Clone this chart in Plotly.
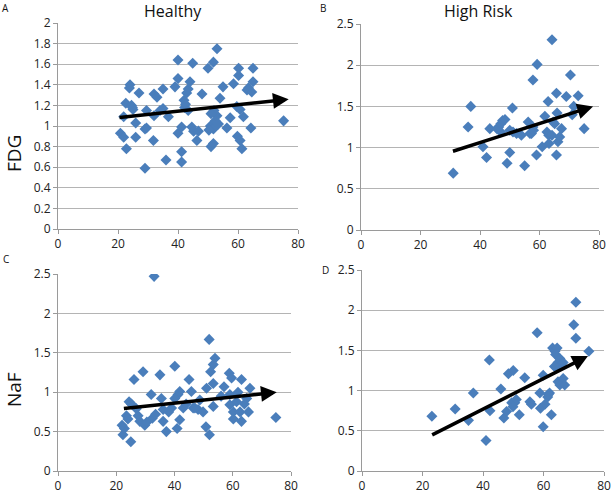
import plotly.graph_objects as go

# ---------------- data ----------------
healthy_fdg_age = [20.8, 21.9, 22.8, 21.9, 22.6, 24.0, 23.8, 24.5, 24.8, 25.0, 25.9, 25.9, 27.0, 29.0, 29.5,
                   29.0, 29.5, 31.8, 32.0, 33.0, 32.0, 34.0, 35.0, 35.0, 36.0, 36.8, 39.0, 40.0, 40.0, 40.0,
                   41.2, 41.2, 41.2, 42.0, 42.2, 42.5, 42.9, 43.4, 44.0, 43.4, 44.6, 44.9, 45.2, 46.8, 46.3,
                   48.0, 50.0, 51.8, 53.0, 50.8, 51.0, 51.8, 51.8, 52.4, 53.0, 52.0, 53.5, 54.0, 55.0, 56.3,
                   57.4, 58.5, 59.6, 59.8, 60.2, 60.2, 60.7, 61.3, 61.8, 63.0, 63.5, 64.6, 64.3, 65.0, 65.0,
                   75.2, 60.7, 51.0, 50.3]
healthy_fdg_val = [0.93, 0.89, 0.78, 1.09, 1.22, 1.40, 1.37, 1.20, 1.18, 1.16, 0.89, 1.03, 1.32, 0.97, 0.98,
                   0.59, 1.15, 0.86, 1.31, 1.28, 1.10, 1.15, 1.36, 1.17, 0.67, 1.09, 1.38, 1.46, 1.64, 0.93,
                   0.75, 0.65, 0.99, 1.25, 1.18, 1.21, 1.32, 1.36, 1.43, 1.15, 0.99, 1.61, 0.95, 0.95, 0.86,
                   1.31, 1.56, 1.62, 1.75, 1.00, 0.80, 0.83, 0.97, 1.05, 1.10, 1.15, 1.02, 1.27, 1.38, 0.98,
                   1.08, 1.41, 1.19, 0.90, 1.56, 1.49, 0.86, 0.78, 1.09, 1.35, 1.37, 1.33, 0.98, 1.43, 1.56,
                   1.05, 1.16, 1.12, 0.96]

risk_fdg_age = [31.0, 36.0, 36.9, 41.0, 42.2, 43.3, 45.7, 46.3, 47.0, 47.6, 48.4, 47.0, 49.1, 50.0, 50.9,
                50.0, 51.1, 52.3, 53.9, 55.0, 56.2, 56.8, 57.8, 57.3, 58.0, 59.0, 57.8, 59.2, 60.9, 61.8,
                62.5, 63.1, 62.9, 63.2, 64.2, 64.6, 65.7, 65.7, 65.9, 66.2, 66.8, 67.4, 69.0, 70.4, 71.0,
                71.5, 73.0, 75.0, 64.2, 65.1]
risk_fdg_val = [0.69, 1.25, 1.50, 1.01, 0.88, 1.23, 1.23, 1.25, 1.29, 1.33, 1.34, 1.19, 0.81, 0.94, 1.48,
                1.21, 1.19, 1.17, 1.15, 0.78, 1.31, 1.17, 1.25, 1.17, 1.21, 0.91, 1.82, 2.01, 1.01, 1.38,
                1.19, 1.15, 1.56, 1.05, 2.31, 1.31, 0.91, 1.66, 1.42, 1.07, 1.13, 1.23, 1.62, 1.88, 1.40,
                1.50, 1.63, 1.23, 1.15, 1.29]

healthy_naf_age = [33.0, 51.9, 53.9, 53.3, 52.4, 40.1, 35.0, 29.2, 26.1, 22.3, 25.0, 22.8, 23.5, 24.4, 25.2,
                   26.9, 28.1, 29.8, 32.0, 32.4, 35.5, 36.1, 37.2, 36.1, 39.0, 40.1, 41.2, 41.8, 40.9, 41.8,
                   43.0, 45.0, 45.8, 46.4, 48.1, 48.7, 49.8, 50.8, 52.0, 51.0, 53.3, 53.3, 57.0, 58.8, 59.6,
                   59.0, 59.0, 60.2, 60.2, 61.3, 62.5, 63.0, 63.0, 64.8, 65.4, 65.9, 74.8, 22.0, 24.0, 27.5,
                   30.5, 33.5, 38.0, 44.0, 47.0, 56.0, 61.8, 64.0]
healthy_naf_val = [2.47, 1.67, 1.43, 1.35, 1.26, 1.33, 1.22, 1.26, 1.16, 0.46, 0.37, 0.54, 0.70, 0.88, 0.85,
                   0.79, 0.63, 0.58, 0.97, 0.67, 0.92, 0.63, 0.50, 0.78, 0.80, 0.92, 0.97, 1.01, 0.54, 0.65,
                   0.80, 1.16, 1.01, 0.80, 0.78, 0.90, 0.75, 0.56, 0.46, 1.05, 1.11, 0.82, 1.07, 1.24, 1.18,
                   0.97, 0.84, 0.75, 0.66, 0.88, 0.75, 0.63, 1.16, 0.92, 0.75, 1.05, 0.68, 0.58, 0.66, 0.70,
                   0.62, 0.72, 0.75, 0.85, 0.80, 0.95, 1.00, 0.85]

risk_naf_age = [23.1, 30.8, 35.2, 36.8, 41.0, 42.1, 42.3, 45.9, 46.9, 47.8, 48.4, 50.0, 49.5, 50.5, 49.9,
                51.0, 52.0, 53.8, 55.5, 56.0, 57.9, 58.8, 59.0, 59.9, 59.9, 60.5, 61.4, 62.0, 62.6, 61.6,
                63.0, 63.8, 64.5, 64.0, 64.3, 64.8, 65.4, 65.9, 64.8, 65.4, 66.5, 66.5, 67.0, 70.0, 70.7,
                70.7, 75.0, 63.6]
risk_naf_val = [0.68, 0.77, 0.63, 0.97, 0.38, 1.38, 0.75, 1.02, 0.66, 0.74, 1.21, 1.25, 0.85, 0.85, 0.80,
                0.89, 0.70, 1.16, 0.86, 0.83, 1.72, 0.97, 0.78, 1.19, 0.55, 0.83, 0.92, 0.97, 0.70, 0.95,
                1.53, 1.49, 1.53, 1.45, 1.28, 1.35, 1.40, 1.32, 1.11, 1.07, 1.15, 1.35, 1.07, 1.82, 2.10,
                1.65, 1.49, 1.30]

# trend arrows: [start, end]
trend_a_x, trend_a_y = [20.0, 76.9], [1.08, 1.26]
trend_b_x, trend_b_y = [30.4, 78.0], [0.95, 1.50]
trend_c_x, trend_c_y = [22.1, 75.1], [0.79, 1.00]
trend_d_x, trend_d_y = [22.7, 74.7], [0.44, 1.43]

col_titles = ["Healthy", "High Risk"]
row_titles = ["FDG", "NaF"]
panel_letters = ["A", "B", "C", "D"]

# ---------------- figure ----------------
W, H = 613, 495
FONT = "Open Sans, Liberation Sans, sans-serif"
BLUE = "#4a7ebb"
GRID = "#b4b4b4"

def dx(a, b):
    return [a / W, b / W]

def dy(top, bottom):
    return [1 - bottom / H, 1 - top / H]

panels = [
    (dx(58, 298), dy(23, 229), [0, 2], 0.2, healthy_fdg_age, healthy_fdg_val, (trend_a_x, trend_a_y)),
    (dx(361, 599), dy(24, 230), [0, 2.5], 0.5, risk_fdg_age, risk_fdg_val, (trend_b_x, trend_b_y)),
    (dx(58, 291), dy(274, 471), [0, 2.5], 0.5, healthy_naf_age, healthy_naf_val, (trend_c_x, trend_c_y)),
    (dx(362, 604), dy(270, 471), [0, 2.5], 0.5, risk_naf_age, risk_naf_val, (trend_d_x, trend_d_y)),
]

fig = go.Figure()
annotations = []
layout_axes = {}
for i, (xd, yd, yr, ydt, xs, ys, (tx, ty)) in enumerate(panels):
    n = "" if i == 0 else str(i + 1)
    xa, ya = "x" + n, "y" + n
    fig.add_trace(go.Scatter(
        x=xs, y=ys, mode="markers", xaxis=xa, yaxis=ya, showlegend=False,
        marker=dict(symbol="diamond", size=8.5, color=BLUE, line=dict(width=0)),
    ))
    layout_axes["xaxis" + n] = dict(
        domain=xd, range=[0, 80], dtick=20, tick0=0, anchor=ya, showgrid=False, zeroline=False,
        showline=True, linecolor="#9a9a9a", linewidth=1, ticks="outside", ticklen=4, tickcolor="#9a9a9a",
        tickfont=dict(family=FONT, size=12, color="#222"), fixedrange=True, automargin=False,
    )
    layout_axes["yaxis" + n] = dict(
        domain=yd, range=yr, dtick=ydt, tick0=0, anchor=xa, showgrid=True, gridcolor=GRID, gridwidth=1,
        zeroline=False, showline=True, linecolor="#9a9a9a", linewidth=1, ticks="outside", ticklen=4,
        tickcolor="#9a9a9a", tickfont=dict(family=FONT, size=12, color="#222"), fixedrange=True,
        automargin=False,
    )
    annotations.append(dict(
        x=tx[1], y=ty[1], ax=tx[0], ay=ty[0], xref=xa, yref=ya, axref=xa, ayref=ya,
        showarrow=True, arrowhead=2, arrowsize=0.9, arrowwidth=3.5, arrowcolor="black", text="",
    ))

def label(text, px, py, size, angle=0):
    return dict(text=text, x=px / W, y=1 - py / H, xref="paper", yref="paper", showarrow=False,
                xanchor="center", yanchor="middle", textangle=angle,
                font=dict(family=FONT, size=size, color="#111"))

annotations += [
    label(col_titles[0], 173, 11, 16),
    label(col_titles[1], 478, 11, 16),
    label(row_titles[0], 14, 154, 19, -90),
    label(row_titles[1], 14, 390, 19, -90),
]
letter_pos = [(6, 8), (323, 8), (6, 259), (326, 270)]
for t, (px, py) in zip(panel_letters, letter_pos):
    annotations.append(label(t, px, py, 10))

fig.update_layout(
    width=W, height=H, margin=dict(l=0, r=0, t=0, b=0, autoexpand=False),
    paper_bgcolor="white", plot_bgcolor="white",
    annotations=annotations, **layout_axes,
)

fig.write_html(
    "out.html",
    config={"displayModeBar": False},
    post_script="document.body.style.margin='0';document.body.style.overflow='hidden';",
)
